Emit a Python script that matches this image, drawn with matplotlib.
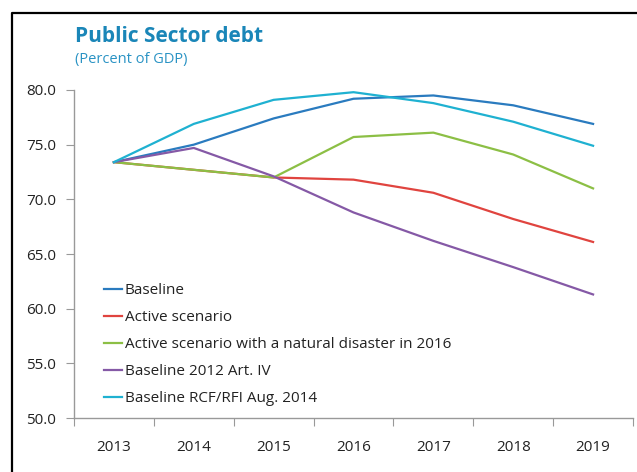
import numpy as np
import matplotlib.pyplot as plt
from matplotlib.lines import Line2D

plt.rcParams['font.family'] = ['Open Sans', 'DejaVu Sans']

# public sector debt, percent of GDP
years = ['2013', '2014', '2015', '2016', '2017', '2018', '2019']
baseline = [73.4, 75.0, 77.4, 79.2, 79.5, 78.6, 76.9]
active = [73.4, 72.7, 72.0, 71.8, 70.6, 68.2, 66.1]
active_disaster = [73.4, 72.7, 72.0, 75.7, 76.1, 74.1, 71.0]
baseline_2012 = [73.4, 74.7, 72.1, 68.8, 66.2, 63.8, 61.3]
baseline_rcf = [73.4, 76.9, 79.1, 79.8, 78.8, 77.1, 74.9]

labels = ['Baseline', 'Active scenario',
          'Active scenario with a natural disaster in 2016',
          'Baseline 2012 Art. IV', 'Baseline RCF/RFI Aug. 2014']
cols = ['#2a7bbf', '#e0443f', '#8cbf45', '#8559a6', '#1fb1d1']

fig = plt.figure(figsize=(6.37, 4.72), dpi=100)
ax = fig.add_axes([74/637, 54/472, 559/637, 328/472])

x = np.arange(len(years))
for vals, lab, c in zip([baseline, active, active_disaster, baseline_2012, baseline_rcf], labels, cols):
    ax.plot(x, vals, color=c, lw=1.6, label=lab, solid_joinstyle='round')

ax.set_ylim(50, 80)
ax.set_xlim(-0.5, len(years) - 0.5)
ax.set_yticks(np.arange(50, 81, 5))
ax.set_yticklabels(['%.1f' % v for v in np.arange(50, 81, 5)])

# category boundaries carry the tick marks, centres carry the labels
ax.set_xticks(np.arange(-0.5, len(years), 1.0))
ax.set_xticklabels([])
ax.set_xticks(x, minor=True)
ax.set_xticklabels(years, minor=True)
ax.tick_params(axis='x', which='major', length=6, color='#999999')
ax.tick_params(axis='x', which='minor', length=0, pad=16, labelsize=11, labelcolor='#222222')
ax.tick_params(axis='y', length=6, color='#999999', pad=7, labelsize=11, labelcolor='#222222')

for s in ['top', 'right']:
    ax.spines[s].set_visible(False)
for s in ['left', 'bottom']:
    ax.spines[s].set_color('#999999')
    ax.spines[s].set_linewidth(1.0)

leg = ax.legend(loc='lower left', bbox_to_anchor=(0.043, 0.018), frameon=False,
                fontsize=11, handlelength=1.2, handletextpad=0.15, labelspacing=0.78,
                borderaxespad=0)
for t in leg.get_texts():
    t.set_color('#222222')

fig.text(75/637, 1 - 36/472, 'Public Sector debt', fontsize=15, fontweight='bold',
         color='#1a86b8', va='center', ha='left')
fig.text(75/637, 1 - 60/472, '(Percent of GDP)', fontsize=10.5,
         color='#2a93c4', va='center', ha='left')

# outer frame (top and left edges)
fig.add_artist(Line2D([12/637, 12/637, 1.0], [0.0, 1 - 13/472, 1 - 13/472],
                      transform=fig.transFigure, color='black', lw=1.6))

fig.savefig('out.png', dpi=100)
